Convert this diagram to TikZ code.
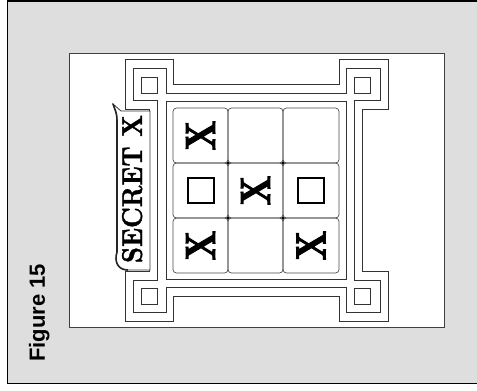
\documentclass[tikz,border=0pt]{standalone}
\usepackage{fontspec}
\usepackage{graphicx}
\newfontfamily\figfont{Liberation Sans}
\newfontfamily\heavyserif{Latin Modern Roman}[BoldFeatures={FakeBold=2.5}]
\newfontfamily\titleserif{Latin Modern Roman}[BoldFeatures={FakeBold=1.2}]
\begin{document}
\begin{tikzpicture}[x=1pt,y=-1pt,
  fr/.style={draw=black!80, line width=0.8pt},
  cellbox/.style={draw=black!70, line width=0.7pt, rounded corners=3.5pt},
  mark x/.style={rotate=90, inner sep=0pt, font=\heavyserif\bfseries},
  mark o/.style={draw=black, line width=2.2pt, minimum width=26pt, minimum height=25pt, inner sep=0pt},
  joint/.style={fill=black}]
\useasboundingbox (0,0) rectangle (477,391);
% gray dithered backdrop and picture border
\fill[black!13] (7.5,1) rectangle (478,383.5);
\draw[line width=1.5pt] (479,1) -- (7.5,1) -- (7.5,383.5) -- (479,383.5);
% white panel
\draw[fill=white, draw=black!75, line width=0.8pt] (69,53) rectangle (444,327);
% outer contour of the frame
\draw[fr] (149,109) -- (125,109) -- (125,59) -- (173,59) -- (173,84) -- (339,84) -- (339,59)
  -- (388,59) -- (388,109) -- (362,109) -- (362,271) -- (388,271) -- (388,321) -- (339,321)
  -- (339,296) -- (173,296) -- (173,321) -- (125,321) -- (125,271) -- (149,271) -- cycle;
% middle contour
\draw[fr] (157,100) -- (133,100) -- (133,68) -- (166,68) -- (166,93) -- (346,93) -- (346,68)
  -- (380,68) -- (380,100) -- (354,100) -- (354,280) -- (380,280) -- (380,312) -- (346,312)
  -- (346,287) -- (166,287) -- (166,312) -- (133,312) -- (133,280) -- (157,280) -- cycle;
% inner board outline
\draw[fr] (166,101) rectangle (346,279);
% corner squares
\foreach \px/\py in {149/85, 362/85, 149/296, 362/296}
  \draw[fr] (\px-8,\py-8) rectangle (\px+8,\py+8);
% cells
\foreach \xa/\xb in {173/228, 228/283, 283/339}
  \foreach \ya/\yb in {108/163, 163/218, 218/273}
    \draw[cellbox] (\xa,\ya) rectangle (\xb,\yb);
\foreach \px/\py in {228/163, 283/163, 228/218, 283/218}
  \fill[joint] (\px,\py) circle (1.7pt);
% marks
\node[mark x] (x11) at (200.5,135.5) {\resizebox{30pt}{29pt}{X}};
\node[mark x] (x22) at (255.5,190.5) {\resizebox{30pt}{29pt}{X}};
\node[mark x] (x31) at (200.5,245.5) {\resizebox{30pt}{29pt}{X}};
\node[mark x] (x33) at (311,245.5) {\resizebox{30pt}{29pt}{X}};
\node[mark o] (o21) at (201,190.5) {};
\node[mark o] (o23) at (311,190.5) {};
% banner
\draw[fill=white, draw=black!80, line width=0.8pt]
  (150,111) -- (121,111) -- (113,104)
  .. controls (115,110) and (117,113) .. (117,120)
  -- (117,252) .. controls (114,262) and (118,270) .. (128,270) -- (150,270) -- cycle;
\draw[black!85, line width=1.6pt] (113,104) .. controls (115,110) and (117,113) .. (117,120) -- (117,252)
  .. controls (114,262) and (118,270) .. (128,270);
\node[rotate=90, anchor=base, inner sep=0pt, font=\titleserif\bfseries] (title) at (142,189)
  {\resizebox{148pt}{20pt}{SECRET X}};
% caption
\node[rotate=90, anchor=base, inner sep=0pt, font=\figfont\bfseries\fontsize{22}{22}\selectfont] (cap) at (45,313) {Figure 15};
\end{tikzpicture}
\end{document}
